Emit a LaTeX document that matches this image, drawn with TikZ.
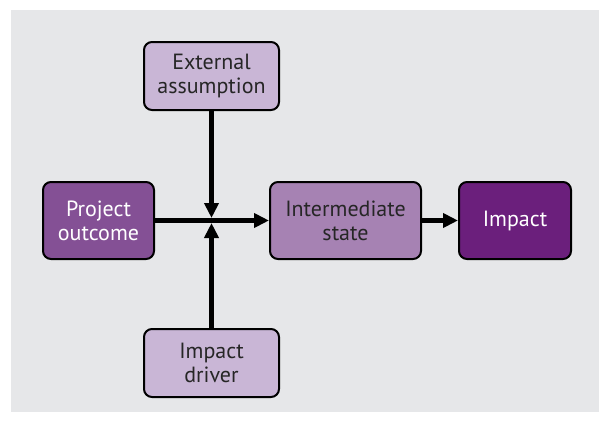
\documentclass[tikz,border=0pt]{standalone}
\usepackage{fontspec}
\setmainfont{PT Sans}
\usetikzlibrary{arrows.meta}
\definecolor{bggray}{HTML}{E6E7E9}
\definecolor{lightpurple}{HTML}{C9B6D6}
\definecolor{midpurple}{HTML}{845095}
\definecolor{softpurple}{HTML}{A682B3}
\definecolor{darkpurple}{HTML}{6B1F7C}
\tikzset{
  box/.style={draw=black, line width=2pt, rounded corners=8pt, inner sep=0pt,
    align=center, font=\fontsize{22}{24}\selectfont},
  lightbox/.style={box, fill=lightpurple, text=black!85},
  outbox/.style={box, fill=midpurple, text=white},
  statebox/.style={box, fill=softpurple, text=black!85},
  impactbox/.style={box, fill=darkpurple, text=white},
  conn/.style={line width=4.5pt, -{Triangle[length=15pt,width=14pt]}}
}
\begin{document}
\begin{tikzpicture}[x=1pt,y=-1pt]
\useasboundingbox (0,0) rectangle (599,421);
\fill[bggray] (11,10) rectangle (599,412);
\node[lightbox, minimum width=135pt, minimum height=68pt] (ext) at (211.5,76) {External\\assumption};
\node[lightbox, minimum width=135pt, minimum height=68pt] (drv) at (211.5,363) {Impact\\driver};
\node[outbox, minimum width=111pt, minimum height=77pt] (proj) at (98.5,220.5) {Project\\outcome};
\node[statebox, minimum width=151pt, minimum height=77pt] (inter) at (345.5,220.5) {Intermediate\\state};
\node[impactbox, minimum width=112pt, minimum height=77pt] (imp) at (515,220.5) {Impact};
\coordinate (j) at (211.5,220.5);
\draw[conn] (proj.east) -- (inter.west);
\draw[conn, shorten >=2.5pt] (ext.south) -- (j);
\draw[conn, shorten >=2.5pt] (drv.north) -- (j);
\draw[conn] (inter.east) -- (imp.west);
\end{tikzpicture}
\end{document}
